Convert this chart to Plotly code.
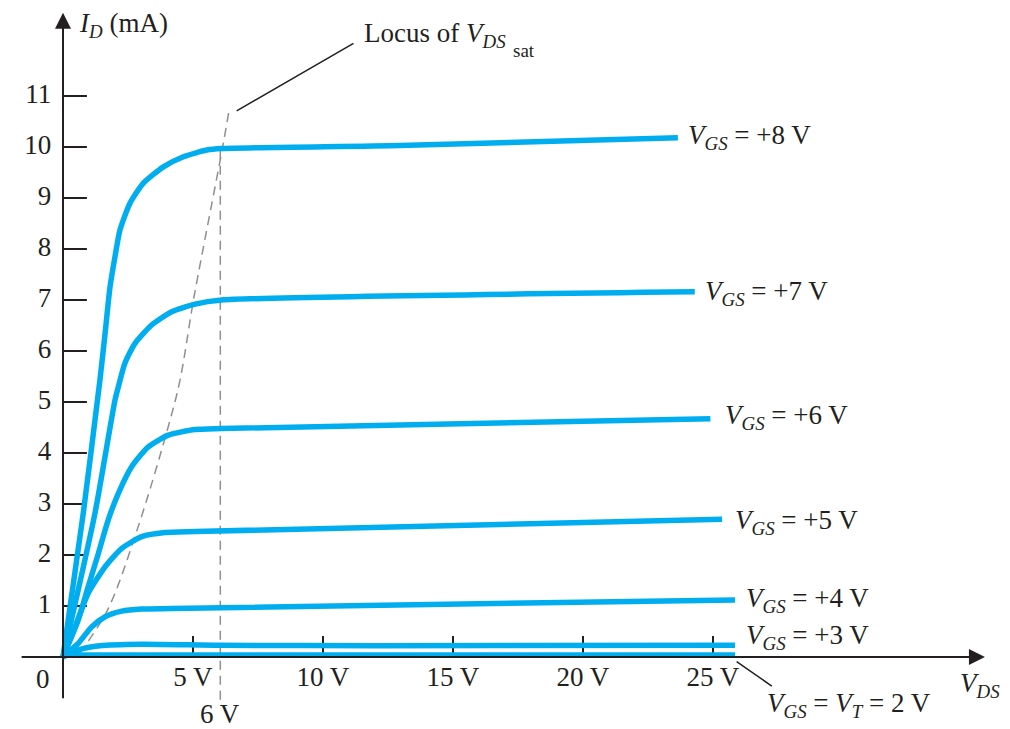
import plotly.graph_objects as go

# ---------------- data ----------------
vgs_labels = ["+8 V", "+7 V", "+6 V", "+5 V", "+4 V", "+3 V"]

vgs8_vds = [0, 0.78, 1.42, 1.62, 1.81, 2.0, 2.19, 2.58, 3.09, 3.86, 4.63, 5.53, 6.1, 12.96, 23.65]
vgs8_id = [0, 2.82, 5.43, 6.35, 7.26, 7.85, 8.37, 8.9, 9.29, 9.61, 9.81, 9.94, 9.97, 10.03, 10.18]

vgs7_vds = [0, 1.23, 2.0, 2.13, 2.38, 2.77, 3.41, 4.18, 5.08, 6.1, 24.3]
vgs7_id = [0, 2.82, 5.04, 5.3, 5.76, 6.15, 6.51, 6.77, 6.92, 7.0, 7.16]

vgs6_vds = [0, 0.59, 0.97, 1.36, 1.74, 2.13, 2.64, 3.28, 4.05, 5.08, 6.1, 24.9]
vgs6_id = [0, 0.73, 1.38, 2.03, 2.69, 3.21, 3.73, 4.12, 4.35, 4.46, 4.48, 4.67]

vgs5_vds = [0, 0.46, 0.97, 1.62, 2.26, 3.03, 3.92, 5.08, 25.35]
vgs5_id = [0, 0.59, 1.25, 1.77, 2.13, 2.36, 2.44, 2.46, 2.7]

vgs4_vds = [0, 0.59, 1.10, 1.62, 2.26, 3.03, 4.18, 25.85]
vgs4_id = [0, 0.27, 0.59, 0.79, 0.90, 0.94, 0.95, 1.12]

vgs3_vds = [0, 0.6, 1.42, 3.0, 6.0, 12.0, 25.85]
vgs3_id = [0, 0.14, 0.22, 0.25, 0.23, 0.22, 0.23]

vgs2_vds = [0, 25.85]
vgs2_id = [0.04, 0.04]

locus_vds = [0.65, 0.85, 1.74, 2.83, 4.05, 4.5, 5.04, 6.14, 6.4]
locus_id = [0.08, 0.22, 0.95, 2.46, 4.52, 5.43, 7.06, 10.0, 10.76]

vds_sat_value = 6.05          # vertical dashed line "6 V"
vds_sat_id_range = [-0.84, 9.94]

x_tick_vals = [5, 10, 15, 20, 25]
x_tick_text = ["5 V", "10 V", "15 V", "20 V", "25 V"]
y_tick_vals = [1, 2, 3, 4, 5, 6, 7, 8, 9, 10, 11]
y_tick_text = [str(v) for v in y_tick_vals]

# label anchor positions (data units)
label_x = [23.98, 24.63, 25.38, 25.78, 26.18, 26.18]
label_y = [10.2, 7.14, 4.7, 2.65, 1.12, 0.39]

# ---------------- styling ----------------
BLUE = "#00aeef"
INK = "#231f20"
GRAY = "#8f8f8f"
FONT = "Liberation Serif"
FS = 27

# the page body has an 8 px margin: figure is placed at (8, 8)
OFF = 8
W, H = 1010 - OFF, 729 - OFF
X0_PX, Y0_PX = 63, 657      # page pixel of the origin
PX_PER_V, PX_PER_MA = 26, 51

fig = go.Figure()

curves = [
    (vgs8_vds, vgs8_id), (vgs7_vds, vgs7_id), (vgs6_vds, vgs6_id),
    (vgs5_vds, vgs5_id), (vgs4_vds, vgs4_id), (vgs3_vds, vgs3_id),
    (vgs2_vds, vgs2_id),
]

# locus dashed curve
fig.add_trace(go.Scatter(x=locus_vds, y=locus_id, mode="lines",
                         line=dict(color=GRAY, width=1.5, dash="9px,6px", shape="spline"),
                         hoverinfo="skip", showlegend=False))
# vertical dashed line at VDS = 6 V
fig.add_trace(go.Scatter(x=[vds_sat_value, vds_sat_value], y=vds_sat_id_range, mode="lines",
                         line=dict(color=GRAY, width=1.5, dash="9px,6px"),
                         hoverinfo="skip", showlegend=False))

# tick marks
tx, ty = [], []
for v in x_tick_vals:
    tx += [v, v, None]
    ty += [0, 0.41, None]
for v in y_tick_vals:
    tx += [0, 0.92, None]
    ty += [v, v, None]
fig.add_trace(go.Scatter(x=tx, y=ty, mode="lines", line=dict(color=INK, width=2),
                         hoverinfo="skip", showlegend=False))

for vx, iy in curves:
    fig.add_trace(go.Scatter(x=vx, y=iy, mode="lines",
                             line=dict(color=BLUE, width=5.5, shape="spline", smoothing=0.6),
                             hoverinfo="skip", showlegend=False))

# tick labels
fig.add_trace(go.Scatter(x=x_tick_vals, y=[-0.43] * len(x_tick_vals), mode="text",
                         text=x_tick_text, textposition="middle center",
                         textfont=dict(family=FONT, size=FS, color=INK),
                         hoverinfo="skip", showlegend=False))
fig.add_trace(go.Scatter(x=[-0.45] * len(y_tick_vals), y=y_tick_vals, mode="text",
                         text=y_tick_text, textposition="middle left",
                         textfont=dict(family=FONT, size=FS, color=INK),
                         hoverinfo="skip", showlegend=False))

ann = []
# axes with arrows
ann.append(dict(x=35.46, y=0, ax=-1.65, ay=0, xref="x", yref="y", axref="x", ayref="y",
                showarrow=True, arrowhead=2, arrowsize=1.6, arrowwidth=2, arrowcolor=INK, text=""))
ann.append(dict(x=0, y=12.63, ax=0, ay=-0.84, xref="x", yref="y", axref="x", ayref="y",
                showarrow=True, arrowhead=2, arrowsize=1.6, arrowwidth=2, arrowcolor=INK, text=""))
# leader lines
ann.append(dict(x=6.68, y=10.71, ax=11.23, ay=12.05, xref="x", yref="y", axref="x", ayref="y",
                showarrow=True, arrowhead=0, arrowwidth=1.5, arrowcolor=INK, text=""))
ann.append(dict(x=25.91, y=-0.09, ax=27.32, ay=-0.59, xref="x", yref="y", axref="x", ayref="y",
                showarrow=True, arrowhead=0, arrowwidth=1.5, arrowcolor=INK, text=""))

font = dict(family=FONT, size=FS, color=INK)
for lx, ly, lab in zip(label_x, label_y, vgs_labels):
    ann.append(dict(x=lx, y=ly, xref="x", yref="y", xanchor="left", yanchor="middle",
                    showarrow=False, text="<i>V<sub>GS</sub></i> = " + lab, font=font))
ann.append(dict(x=27.0, y=-0.95, xref="x", yref="y", xanchor="left", yanchor="middle",
                showarrow=False, text="<i>V<sub>GS</sub></i> = <i>V<sub>T</sub></i> = 2 V", font=font))
ann.append(dict(x=36.1, y=-0.55, xref="x", yref="y", xanchor="right", yanchor="middle",
                showarrow=False, text="<i>V<sub>DS</sub></i>", font=font))
ann.append(dict(x=0.55, y=12.4, xref="x", yref="y", xanchor="left", yanchor="middle",
                showarrow=False, text="<i>I<sub>D</sub></i> (mA)", font=font))
ann.append(dict(x=11.5, y=12.2, xref="x", yref="y", xanchor="left", yanchor="middle",
                showarrow=False, text="Locus of <i>V<sub>DS</sub></i>", font=font))
ann.append(dict(x=17.22, y=11.9, xref="x", yref="y", xanchor="left", yanchor="middle",
                showarrow=False, text="sat", font=dict(family=FONT, size=19, color=INK)))
ann.append(dict(x=-0.77, y=-0.43, xref="x", yref="y", xanchor="center", yanchor="middle",
                showarrow=False, text="0", font=font))
ann.append(dict(x=vds_sat_value, y=-1.12, xref="x", yref="y", xanchor="center", yanchor="middle",
                showarrow=False, text="6 V", font=font))

fig.update_layout(
    width=W, height=H,
    margin=dict(l=0, r=0, t=0, b=0, pad=0),
    paper_bgcolor="white", plot_bgcolor="white",
    xaxis=dict(range=[(OFF - X0_PX) / PX_PER_V, (1010 - X0_PX) / PX_PER_V],
               visible=False, fixedrange=True),
    yaxis=dict(range=[(Y0_PX - 729) / PX_PER_MA, (Y0_PX - OFF) / PX_PER_MA],
               visible=False, fixedrange=True),
    annotations=ann,
    showlegend=False,
)

fig.write_html("out.html")
